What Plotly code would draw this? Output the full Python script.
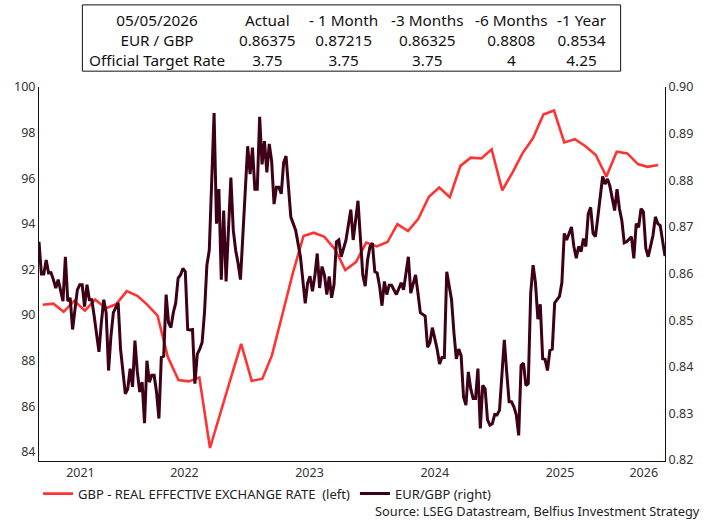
import pandas as pd
import plotly.graph_objects as go

# ---------------------------------------------------------------- data
# GBP real effective exchange rate, monthly (index, left axis), May 2021 - Apr 2026
reer_start = "2021-05-01"
reer_values = [
    90.45, 90.50, 90.14, 90.62, 90.19, 90.68, 90.30, 90.47, 91.05, 90.84,
    90.47, 89.97, 88.16, 87.15, 87.09, 87.26, 84.17, 85.73, 87.25, 88.74,
    87.11, 87.21, 88.24, 90.07, 91.85, 93.47, 93.61, 93.43, 92.88, 91.97,
    92.32, 93.18, 93.01, 93.20, 93.99, 93.68, 94.22, 95.19, 95.59, 95.17,
    96.54, 96.90, 96.87, 97.27, 95.47, 96.28, 97.09, 97.76, 98.79, 98.97,
    97.57, 97.71, 97.40, 97.02, 96.07, 97.16, 97.09, 96.62, 96.50, 96.58,
]

# EUR/GBP weekly closes (right axis); week number counted from the first observation
eurgbp_first_date = "2021-05-04"
eurgbp_week = [
    0, 1, 2, 3, 4, 5, 6, 7, 8, 9, 10, 11, 12, 13, 14, 15, 16, 17, 18, 19,
    20, 21, 22, 23, 24, 25, 26, 27, 28, 29, 30, 31, 32, 33, 34, 35, 36, 37, 38, 39,
    40, 41, 42, 43, 44, 45, 46, 47, 48, 49, 50, 51, 52, 53, 54, 55, 56, 57, 58, 59,
    60, 61, 62, 63, 64, 65, 66, 67, 68, 69, 70, 71, 73, 74, 75, 76, 77, 78, 79,
    80, 81, 82, 83, 84, 87, 88, 89, 90, 91, 92, 93, 94, 95, 96, 97, 98, 99,
    100, 101, 102, 103, 104, 105, 106, 107, 109, 110, 111, 112, 113, 114, 115, 116, 117, 118, 119,
    120, 121, 122, 123, 124, 125, 126, 128, 130, 131, 133, 134, 135, 136, 137, 138, 139,
    140, 141, 142, 143, 144, 145, 146, 147, 149, 150, 151, 152, 154, 155, 156, 157, 158, 159,
    161, 162, 163, 164, 166, 167, 168, 169, 170, 172, 173, 174, 175, 176, 177, 178, 179,
    180, 181, 182, 183, 184, 185, 186, 187, 188, 189, 190, 191, 192, 193, 194, 195, 196, 197, 198, 199,
    200, 201, 202, 203, 204, 205, 206, 207, 208, 209, 210, 211, 212, 213, 214, 215, 217, 218, 219,
    220, 221, 222, 223, 224, 225, 226, 227, 228, 229, 230, 231, 232, 233, 235, 236, 237, 238,
    240, 241, 242, 243, 244, 245, 247, 248, 249, 250, 251, 252, 253, 254, 256, 257, 258, 259, 261,
]
eurgbp_values = [
    0.8668, 0.8599, 0.8599, 0.8629, 0.8601, 0.8602, 0.8587, 0.8569, 0.8587, 0.8562,
    0.8541, 0.8636, 0.8541, 0.8548, 0.8480, 0.8523, 0.8565, 0.8576, 0.8576, 0.8529,
    0.8576, 0.8544, 0.8544, 0.8509, 0.8466, 0.8432, 0.8495, 0.8544, 0.8516, 0.8392,
    0.8466, 0.8516, 0.8527, 0.8537, 0.8438, 0.8382, 0.8342, 0.8353, 0.8396, 0.8357,
    0.8456, 0.8389, 0.8346, 0.8367, 0.8279, 0.8413, 0.8367, 0.8382, 0.8382, 0.8346,
    0.8289, 0.8420, 0.8423, 0.8555, 0.8495, 0.8484, 0.8516, 0.8537, 0.8590, 0.8597,
    0.8611, 0.8604, 0.8480, 0.8479, 0.8480, 0.8364, 0.8427, 0.8438, 0.8452, 0.8516,
    0.8618, 0.8650, 0.8944, 0.8707, 0.8781, 0.8587, 0.8735, 0.8583, 0.8707,
    0.8806, 0.8693, 0.8650, 0.8622, 0.8587, 0.8873, 0.8813, 0.8870, 0.8781, 0.8781,
    0.8936, 0.8834, 0.8884, 0.8817, 0.8878, 0.8841, 0.8749, 0.8785,
    0.8785, 0.8771, 0.8838, 0.8852, 0.8778, 0.8721, 0.8707, 0.8693, 0.8636, 0.8587,
    0.8536, 0.8580, 0.8594, 0.8562, 0.8594, 0.8643, 0.8569, 0.8615, 0.8597,
    0.8555, 0.8594, 0.8548, 0.8576, 0.8668, 0.8672, 0.8636, 0.8672, 0.8737, 0.8672,
    0.8756, 0.8665, 0.8597, 0.8573, 0.8629, 0.8658, 0.8665,
    0.8604, 0.8601, 0.8573, 0.8531, 0.8583, 0.8555, 0.8575, 0.8575, 0.8555, 0.8569,
    0.8580, 0.8565, 0.8636, 0.8558, 0.8575, 0.8597, 0.8558, 0.8516,
    0.8509, 0.8442, 0.8452, 0.8484, 0.8438, 0.8406, 0.8420, 0.8420, 0.8604, 0.8544,
    0.8473, 0.8417, 0.8438, 0.8424, 0.8335, 0.8318, 0.8389,
    0.8353, 0.8332, 0.8332, 0.8396, 0.8268, 0.8360, 0.8353, 0.8286, 0.8275, 0.8278,
    0.8298, 0.8297, 0.8307, 0.8382, 0.8458, 0.8389, 0.8325, 0.8325, 0.8314, 0.8297,
    0.8253, 0.8403, 0.8408, 0.8360, 0.8364, 0.8558, 0.8618, 0.8580, 0.8502, 0.8534,
    0.8417, 0.8416, 0.8392, 0.8435, 0.8438, 0.8537, 0.8551, 0.8580, 0.8686,
    0.8672, 0.8684, 0.8700, 0.8658, 0.8633, 0.8658, 0.8647, 0.8675, 0.8658, 0.8728,
    0.8742, 0.8686, 0.8679, 0.8721, 0.8808, 0.8792, 0.8803, 0.8788,
    0.8735, 0.8781, 0.8739, 0.8714, 0.8666, 0.8668, 0.8679, 0.86325, 0.8707, 0.8699,
    0.8739, 0.8732, 0.8654, 0.8636, 0.8682, 0.87215, 0.8707, 0.8703, 0.86375,
]

# summary table shown above the chart
table_header = ["05/05/2026", "Actual", "- 1 Month", "-3 Months", "-6 Months", "-1 Year"]
table_eurgbp = ["EUR / GBP", "0.86375", "0.87215", "0.86325", "0.8808", "0.8534"]
table_rate = ["Official Target Rate", "3.75", "3.75", "3.75", "4", "4.25"]

left_ticks = [84, 86, 88, 90, 92, 94, 96, 98, 100]
right_ticks = [0.82, 0.83, 0.84, 0.85, 0.86, 0.87, 0.88, 0.89, 0.90]
x_start, x_end = "2021-05-04", "2026-05-05"

# ---------------------------------------------------------------- series
reer_dates = pd.date_range(reer_start, periods=len(reer_values), freq="MS") + pd.Timedelta(days=14)
eurgbp_dates = pd.Timestamp(eurgbp_first_date) + pd.to_timedelta([7 * w for w in eurgbp_week], unit="D")

# year labels sit in the middle of the visible part of each year
t0, t1 = pd.Timestamp(x_start), pd.Timestamp(x_end)
year_pos, year_txt = [], []
for yr in range(t0.year, t1.year + 1):
    a = max(t0, pd.Timestamp(f"{yr}-01-01"))
    b = min(t1, pd.Timestamp(f"{yr + 1}-01-01"))
    year_pos.append(a + (b - a) / 2)
    year_txt.append(str(yr))

FONT = "Noto Sans"
RED = "#ff3333"
DARK = "#3d0016"
W, H = 705, 521
ML, MR, MT, MB = 39, 31, 87, 56
PW, PH = W - ML - MR, H - MT - MB


def px(x):
    return (x - ML) / PW


def py(y):
    return (H - MB - y) / PH


fig = go.Figure()
fig.add_trace(go.Scatter(
    x=reer_dates, y=reer_values, mode="lines",
    name="GBP - REAL EFFECTIVE EXCHANGE RATE &nbsp;(left)",
    line=dict(color=RED, width=2.6), yaxis="y",
))
fig.add_trace(go.Scatter(
    x=eurgbp_dates, y=eurgbp_values, mode="lines",
    name="EUR/GBP (right)",
    line=dict(color=DARK, width=3), yaxis="y2",
))

axis_font = dict(family=FONT, size=12.5, color="#333333")
fig.update_layout(
    width=W, height=H,
    margin=dict(l=ML, r=MR, t=MT, b=MB),
    paper_bgcolor="white", plot_bgcolor="white",
    font=dict(family=FONT, size=12, color="#222222"),
    xaxis=dict(
        type="date", range=[t0, t1], tickmode="array",
        tickvals=year_pos, ticktext=year_txt, ticks="",
        showgrid=False, zeroline=False, showline=True,
        linecolor="#111111", linewidth=1, tickfont=axis_font,
    ),
    yaxis=dict(
        range=[83.6, 100], tickmode="array", tickvals=left_ticks,
        ticks="", showgrid=False, zeroline=False, showline=True,
        linecolor="#111111", linewidth=1, tickfont=axis_font,
    ),
    yaxis2=dict(
        range=[0.8198, 0.90], tickmode="array", tickvals=right_ticks,
        tickformat=".2f", overlaying="y", side="right",
        ticks="", showgrid=False, zeroline=False, showline=True,
        linecolor="#111111", linewidth=1, tickfont=axis_font,
    ),
    legend=dict(
        orientation="h", x=px(38), xanchor="left", y=py(498), yanchor="middle",
        font=dict(family=FONT, size=13, color="#222222"),
        bgcolor="rgba(0,0,0,0)", itemwidth=30, tracegroupgap=0,
    ),
    showlegend=True,
)

# summary table: one centred multi-line text block per column
fig.add_shape(type="rect", xref="paper", yref="paper",
              x0=px(83), x1=px(629), y0=py(71), y1=py(4),
              line=dict(color="#111111", width=1), fillcolor="rgba(0,0,0,0)")
col_x = [159, 271, 348, 433, 518, 590]
for cx, cells in zip(col_x, zip(table_header, table_eurgbp, table_rate)):
    fig.add_annotation(
        x=px(cx), y=py(39.5), xref="paper", yref="paper",
        text="<br>".join(cells), showarrow=False,
        xanchor="center", yanchor="middle", align="center",
        font=dict(family=FONT, size=15.3, color="#111111"),
    )

fig.add_annotation(
    x=px(712), y=py(516), xref="paper", yref="paper",
    text="Source: LSEG Datastream, Belfius Investment Strategy",
    showarrow=False, xanchor="right", yanchor="middle",
    font=dict(family=FONT, size=12.8, color="#222222"),
)

fig.write_html("out.html")
